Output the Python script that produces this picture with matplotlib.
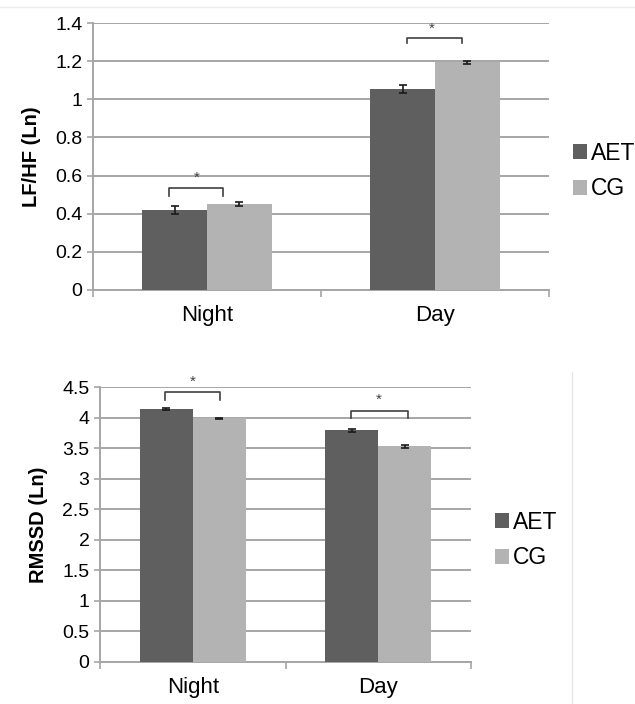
import matplotlib
matplotlib.use("Agg")
import matplotlib.pyplot as plt
from matplotlib.lines import Line2D
from matplotlib.patches import Patch

plt.rcParams['font.family'] = ['Liberation Sans', 'DejaVu Sans']

# data
periods = ["Night", "Day"]
groups = ["AET", "CG"]
colors = ["#5f5f5f", "#b3b3b3"]

lfhf_aet = [0.42, 1.055]
lfhf_cg = [0.45, 1.195]
lfhf_aet_err = [0.022, 0.022]
lfhf_cg_err = [0.010, 0.008]
lfhf_ticks = [0, 0.2, 0.4, 0.6, 0.8, 1, 1.2, 1.4]
lfhf_ticklabels = ["0", "0.2", "0.4", "0.6", "0.8", "1", "1.2", "1.4"]

rmssd_aet = [4.14, 3.79]
rmssd_cg = [3.99, 3.53]
rmssd_aet_err = [0.02, 0.025]
rmssd_cg_err = [0.01, 0.02]
rmssd_ticks = [0, 0.5, 1, 1.5, 2, 2.5, 3, 3.5, 4, 4.5]
rmssd_ticklabels = ["0", "0.5", "1", "1.5", "2", "2.5", "3", "3.5", "4", "4.5"]

# significance brackets: (x0, x1, y_top, y_tick_end, star_x, star_y)
lfhf_sig = [(-0.167, 0.07, 0.535, 0.493, -0.044, 0.55),
            (0.877, 1.118, 1.323, 1.295, 0.987, 1.335)]
rmssd_sig = [(-0.151, 0.146, 4.42, 4.29, 0.0, 4.47),
             (0.852, 1.159, 4.11, 3.99, 1.005, 4.17)]

W, H = 635, 704
fig = plt.figure(figsize=(W / 100, H / 100), dpi=100)


def draw_panel(rect, aet, cg, aet_err, cg_err, ticks, ticklabels, ymax,
               ylabel, sig, legend_xy):
    ax = fig.add_axes(rect)
    x = [0, 1]
    bw = 0.285
    ax.bar([i - bw / 2 for i in x], aet, width=bw, color=colors[0], zorder=3)
    ax.bar([i + bw / 2 for i in x], cg, width=bw, color=colors[1], zorder=3)
    ax.errorbar([i - bw / 2 for i in x], aet, yerr=aet_err, fmt='none',
                ecolor="#1a1a1a", elinewidth=1.2, capsize=3, capthick=1.2, zorder=4)
    ax.errorbar([i + bw / 2 for i in x], cg, yerr=cg_err, fmt='none',
                ecolor="#1a1a1a", elinewidth=1.2, capsize=3, capthick=1.2, zorder=4)

    ax.set_xlim(-0.5, 1.5)
    ax.set_ylim(0, ymax)
    ax.set_yticks(ticks)
    ax.set_yticklabels(ticklabels, fontsize=14)
    ax.yaxis.grid(True, color="#a6a6a6", linewidth=1.4, zorder=0)
    ax.set_axisbelow(True)
    ax.tick_params(axis='y', length=4.5, width=1.2, color="#a6a6a6", pad=3)

    ax.set_xticks(x)
    ax.set_xticklabels(periods, fontsize=16)
    ax.tick_params(axis='x', length=0, pad=11)
    ax.set_xticks([-0.5, 0.5, 1.5], minor=True)
    ax.tick_params(axis='x', which='minor', length=5, width=1.2, color="#a6a6a6")

    for s in ["top", "right"]:
        ax.spines[s].set_visible(False)
    for s in ["left", "bottom"]:
        ax.spines[s].set_color("#a6a6a6")
        ax.spines[s].set_linewidth(1.4)

    ax.set_ylabel(ylabel, fontsize=14.5, fontweight='bold', labelpad=10)

    for x0, x1, yt, yb, sx, sy in sig:
        ax.plot([x0, x0, x1, x1], [yb, yt, yt, yb], color="#404040",
                linewidth=1.2, clip_on=False, zorder=5)
        ax.text(sx, sy, "*", ha='center', va='bottom', fontsize=11,
                color="#404040", clip_on=False)

    handles = [Patch(facecolor=c, edgecolor='none') for c in colors]
    fig.legend(handles, groups, loc='center left',
               bbox_to_anchor=(legend_xy[0] / W, 1 - legend_xy[1] / H),
               frameon=False, fontsize=16.5, handlelength=0.6, handleheight=0.6,
               handletextpad=0.2, labelspacing=0.55, borderpad=0,
               borderaxespad=0)
    return ax


draw_panel([93 / W, 1 - 290 / H, 456 / W, 267 / H],
           lfhf_aet, lfhf_cg, lfhf_aet_err, lfhf_cg_err,
           lfhf_ticks, lfhf_ticklabels, 1.4, "LF/HF (Ln)", lfhf_sig, (573, 171))

draw_panel([100 / W, 1 - 662 / H, 371 / W, 275 / H],
           rmssd_aet, rmssd_cg, rmssd_aet_err, rmssd_cg_err,
           rmssd_ticks, rmssd_ticklabels, 4.5, "RMSSD (Ln)", rmssd_sig, (495, 540))

# faint frame lines from the source layout
fig.add_artist(Line2D([0, 1], [1 - 7 / H, 1 - 7 / H], color="#ececec", linewidth=1))
fig.add_artist(Line2D([572 / W, 572 / W], [0, 1 - 372 / H], color="#e6e6e6", linewidth=1))

fig.savefig("out.png", dpi=100)
